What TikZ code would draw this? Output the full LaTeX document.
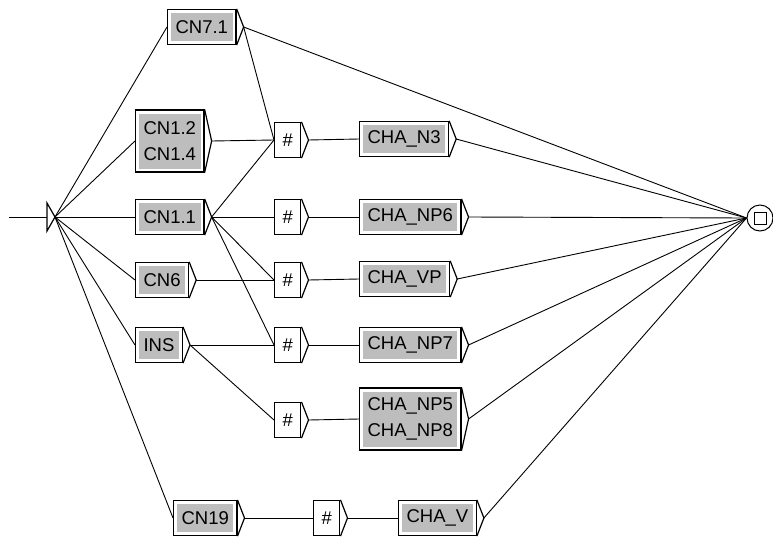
\documentclass[tikz,border=0pt]{standalone}
\usepackage{fontspec}
\setmainfont{Liberation Sans}
\usetikzlibrary{calc}

\definecolor{callgrey}{gray}{0.74}
\tikzset{
  box/.style = {draw, fill=white, line width=1.2pt, anchor=west, align=center,
    minimum height=35pt, inner xsep=8pt, inner ysep=4pt,
    font=\fontsize{18.5}{26}\selectfont},
  call/.style = {box, path picture={\fill[callgrey]
      ([shift={(3.5pt,-3.5pt)}]path picture bounding box.north west) rectangle
      ([shift={(-3.5pt,3.5pt)}]path picture bounding box.south east);}},
  trans/.style = {line width=0.9pt}
}

\begin{document}
\begin{tikzpicture}[x=1pt, y=-1pt]
\useasboundingbox (0,0) rectangle (773,538);

% initial and final states
\coordinate (start) at (9,217);
\coordinate (init) at (55,217);
\draw[trans] (start) -- ++(38,0);
\draw[line width=1.2pt] (init) -- ++(-8,-14) -- ++(0,28) -- cycle;
\node[draw, circle, line width=1pt, minimum size=26pt, inner sep=0pt] (fin) at (760,218) {};
\node[draw, line width=1pt, minimum size=12pt, inner sep=0pt] (finsq) at (fin.center) {};

% first column: calls
\node[call] (cn71) at (167,27) {CN7.1};
\node[call, minimum height=62pt] (cn12) at (135,141) {CN1.2\\CN1.4};
\node[call] (cn11) at (135,217) {CN1.1};
\node[call] (cn6) at (135,280) {CN6};
\node[call] (ins) at (135,345) {INS};
\node[call] (cn19) at (173,518) {CN19};

% separators
\node[box] (h1) at (274,140) {\#};
\node[box] (h2) at (274,217) {\#};
\node[box] (h3) at (274,280) {\#};
\node[box] (h4) at (274,345) {\#};
\node[box] (h5) at (274,420) {\#};
\node[box] (h6) at (313,518) {\#};

% chunk calls
\node[call] (n3) at (359,139) {CHA\_N3};
\node[call] (np6) at (359,217) {CHA\_NP6};
\node[call] (vp) at (359,279) {CHA\_VP};
\node[call] (np7) at (359,345) {CHA\_NP7};
\node[call, minimum height=62pt] (np5) at (359,419) {CHA\_NP5\\CHA\_NP8};
\node[call] (v) at (398,518) {CHA\_V};

% output brackets
\foreach \n in {cn71,cn12,cn11,cn6,ins,cn19,h1,h2,h3,h4,h5,h6,n3,np6,vp,np7,np5,v}
  \draw[line width=1.2pt] (\n.north east) -- ($(\n.east)+(7pt,0)$) coordinate (\n-o) -- (\n.south east);

% transitions
\foreach \b in {cn71,cn12,cn11,cn6,ins,cn19}
  \draw[trans] (init) -- (\b.west);
\foreach \a/\b in {cn71/h1, cn12/h1, cn11/h1, cn11/h2, cn11/h3, cn11/h4,
                   cn6/h3, ins/h4, ins/h5, cn19/h6,
                   h1/n3, h2/np6, h3/vp, h4/np7, h5/np5, h6/v}
  \draw[trans] (\a-o) -- (\b.west);
\foreach \a in {cn71,n3,np6,vp,np7,np5,v}
  \draw[trans] (\a-o) -- (fin.west);
\end{tikzpicture}
\end{document}
